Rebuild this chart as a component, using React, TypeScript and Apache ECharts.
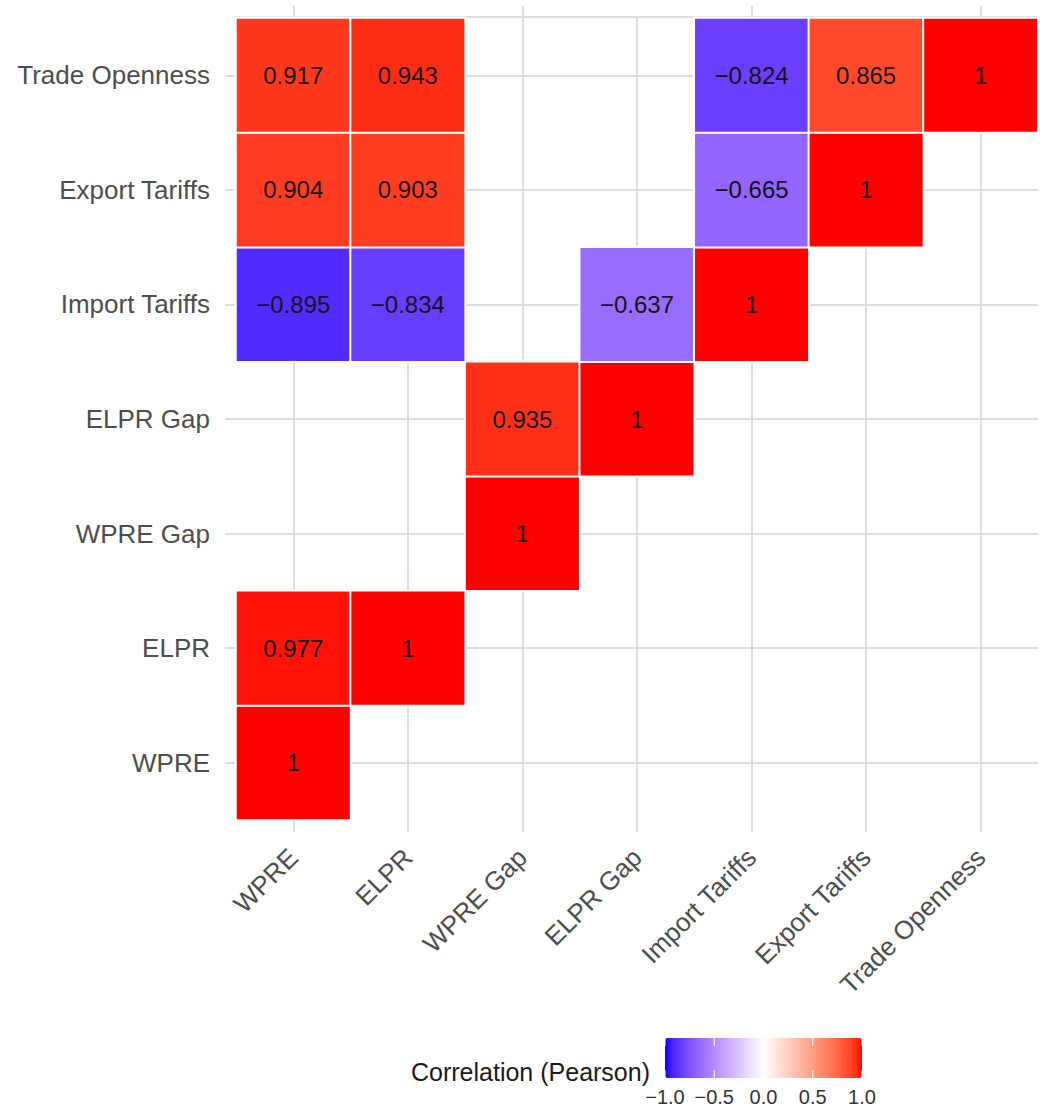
import React, { useEffect, useRef } from "react";
import * as echarts from "echarts";

// ---- data ----
const variables = [
  "WPRE",
  "ELPR",
  "WPRE Gap",
  "ELPR Gap",
  "Import Tariffs",
  "Export Tariffs",
  "Trade Openness",
];

// significant correlations only (blank cells are omitted)
const cellX = [
  "WPRE",
  "WPRE", "ELPR",
  "WPRE Gap",
  "WPRE Gap", "ELPR Gap",
  "WPRE", "ELPR", "ELPR Gap", "Import Tariffs",
  "WPRE", "ELPR", "Import Tariffs", "Export Tariffs",
  "WPRE", "ELPR", "Import Tariffs", "Export Tariffs", "Trade Openness",
];
const cellY = [
  "WPRE",
  "ELPR", "ELPR",
  "WPRE Gap",
  "ELPR Gap", "ELPR Gap",
  "Import Tariffs", "Import Tariffs", "Import Tariffs", "Import Tariffs",
  "Export Tariffs", "Export Tariffs", "Export Tariffs", "Export Tariffs",
  "Trade Openness", "Trade Openness", "Trade Openness", "Trade Openness", "Trade Openness",
];
const cellValues = [
  1,
  0.977, 1,
  1,
  0.935, 1,
  -0.895, -0.834, -0.637, 1,
  0.904, 0.903, -0.665, 1,
  0.917, 0.943, -0.824, 0.865, 1,
];

const legendTicks = [-1, -0.5, 0, 0.5, 1];
const legendTitle = "Correlation (Pearson)";

// ---- colour helpers (CIELAB interpolation, like ggplot's gradient2) ----
const LOW = [0, 0, 255];
const MID = [255, 255, 255];
const HIGH = [255, 0, 0];

function toLin(c: number) {
  const v = c / 255;
  return v <= 0.04045 ? v / 12.92 : Math.pow((v + 0.055) / 1.055, 2.4);
}
function fromLin(v: number) {
  const c = v <= 0.0031308 ? 12.92 * v : 1.055 * Math.pow(v, 1 / 2.4) - 0.055;
  return Math.max(0, Math.min(255, Math.round(c * 255)));
}
function rgbToLab(rgb: number[]) {
  const r = toLin(rgb[0]), g = toLin(rgb[1]), b = toLin(rgb[2]);
  const X = (0.4124564 * r + 0.3575761 * g + 0.1804375 * b) / 0.95047;
  const Y = 0.2126729 * r + 0.7151522 * g + 0.072175 * b;
  const Z = (0.0193339 * r + 0.119192 * g + 0.9503041 * b) / 1.08883;
  const f = (t: number) => (t > 0.008856 ? Math.cbrt(t) : 7.787 * t + 16 / 116);
  const fx = f(X), fy = f(Y), fz = f(Z);
  return [116 * fy - 16, 500 * (fx - fy), 200 * (fy - fz)];
}
function labToHex(lab: number[]) {
  const fy = (lab[0] + 16) / 116;
  const fx = fy + lab[1] / 500;
  const fz = fy - lab[2] / 200;
  const inv = (t: number) => (t * t * t > 0.008856 ? t * t * t : (t - 16 / 116) / 7.787);
  const X = inv(fx) * 0.95047, Y = inv(fy), Z = inv(fz) * 1.08883;
  const r = 3.2404542 * X - 1.5371385 * Y - 0.4985314 * Z;
  const g = -0.969266 * X + 1.8760108 * Y + 0.041556 * Z;
  const b = 0.0556434 * X - 0.2040259 * Y + 1.0572252 * Z;
  const h = (n: number) => n.toString(16).padStart(2, "0");
  return "#" + h(fromLin(r)) + h(fromLin(g)) + h(fromLin(b));
}
const labLow = rgbToLab(LOW), labMid = rgbToLab(MID), labHigh = rgbToLab(HIGH);
function divColor(v: number) {
  const end = v < 0 ? labLow : labHigh;
  const t = Math.abs(v);
  return labToHex(labMid.map((m, i) => m + (end[i] - m) * t));
}
const colorStops: string[] = [];
for (let i = 0; i <= 40; i++) colorStops.push(divColor(-1 + i * 0.05));

const fmtCell = (v: number) =>
  v === 1 ? "1" : (v < 0 ? "\u2212" : "") + Math.abs(v).toFixed(3);
const fmtTick = (v: number) => (v < 0 ? "\u2212" : "") + Math.abs(v).toFixed(1);

const FONT = "'Liberation Sans', Arial, Helvetica, sans-serif";
const GRID_COLOR = "#d3d3d3";

export default function App() {
  const ref = useRef<HTMLDivElement>(null);

  useEffect(() => {
    document.body.style.margin = "0";
    const chart = echarts.init(ref.current!, null, { renderer: "svg" });

    const data = cellValues.map((v, i) => [
      variables.indexOf(cellX[i]),
      variables.indexOf(cellY[i]),
      v,
    ]);

    const barLeft = 665;
    const barTop = 1038;
    const barW = 197;
    const barH = 40;

    const graphics: any[] = [];
    legendTicks.forEach((t) => {
      const x = barLeft + ((t + 1) / 2) * barW;
      graphics.push({
        type: "text",
        style: {
          text: fmtTick(t),
          x,
          y: 1097,
          align: "center",
          verticalAlign: "middle",
          fontSize: 20,
          fontFamily: FONT,
          fill: "#333333",
        },
      });
      graphics.push({
        type: "line",
        shape: { x1: x, y1: barTop, x2: x, y2: barTop + 8 },
        style: { stroke: "#ffffff", lineWidth: 1 },
        z: 100,
      });
      graphics.push({
        type: "line",
        shape: { x1: x, y1: barTop + barH - 8, x2: x, y2: barTop + barH },
        style: { stroke: "#ffffff", lineWidth: 1 },
        z: 100,
      });
    });
    graphics.push({
      type: "text",
      style: {
        text: legendTitle,
        x: 650,
        y: 1072,
        align: "right",
        verticalAlign: "middle",
        fontSize: 25,
        fontFamily: FONT,
        fill: "#1a1a1a",
      },
    });

    const lineStyle = { color: GRID_COLOR, width: 1.5 };

    chart.setOption({
      animation: false,
      backgroundColor: "#ffffff",
      textStyle: { fontFamily: FONT },
      grid: {
        left: 236,
        right: 2,
        top: 18,
        bottom: 290,
        containLabel: false,
        outerBoundsMode: "none",
      },
      xAxis: [
        {
          type: "category",
          data: variables,
          position: "bottom",
          axisLine: { show: false },
          axisTick: { show: true, alignWithLabel: true, length: 12, lineStyle },
          axisLabel: {
            rotate: 45,
            margin: 33,
            fontSize: 26,
            color: "#4d4d4d",
            fontFamily: FONT,
            interval: 0,
          },
          splitLine: { show: true, alignWithLabel: true, lineStyle },
        },
        {
          type: "category",
          data: variables,
          position: "top",
          offset: 1,
          axisLine: { show: true, lineStyle },
          axisTick: { show: true, alignWithLabel: true, length: 11, lineStyle },
          axisLabel: { show: false },
          splitLine: { show: false },
        },
      ],
      yAxis: {
        type: "category",
        data: variables,
        axisLine: { show: false },
        axisTick: { show: true, alignWithLabel: true, length: 11, lineStyle },
        axisLabel: {
          margin: 26,
          fontSize: 26,
          color: "#4d4d4d",
          fontFamily: FONT,
          interval: 0,
        },
        splitLine: { show: true, alignWithLabel: true, lineStyle },
      },
      visualMap: {
        type: "continuous",
        min: -1,
        max: 1,
        orient: "horizontal",
        left: barLeft,
        top: barTop,
        itemWidth: barH,
        itemHeight: barW,
        padding: 0,
        calculable: false,
        hoverLink: false,
        seriesIndex: 0,
        inRange: { color: colorStops },
      },
      graphic: graphics,
      series: [
        {
          type: "heatmap",
          xAxisIndex: 0,
          yAxisIndex: 0,
          data,
          itemStyle: { borderColor: "#ffffff", borderWidth: 2 },
          label: {
            show: true,
            formatter: (p: any) => fmtCell(p.value[2]),
            fontSize: 24,
            color: "#141414",
            fontFamily: FONT,
          },
          emphasis: { disabled: true },
        },
      ],
    });

    return () => chart.dispose();
  }, []);

  return (
    <div
      ref={ref}
      style={{ width: 1040, height: 1110, position: "absolute", left: 0, top: 0 }}
    />
  );
}
